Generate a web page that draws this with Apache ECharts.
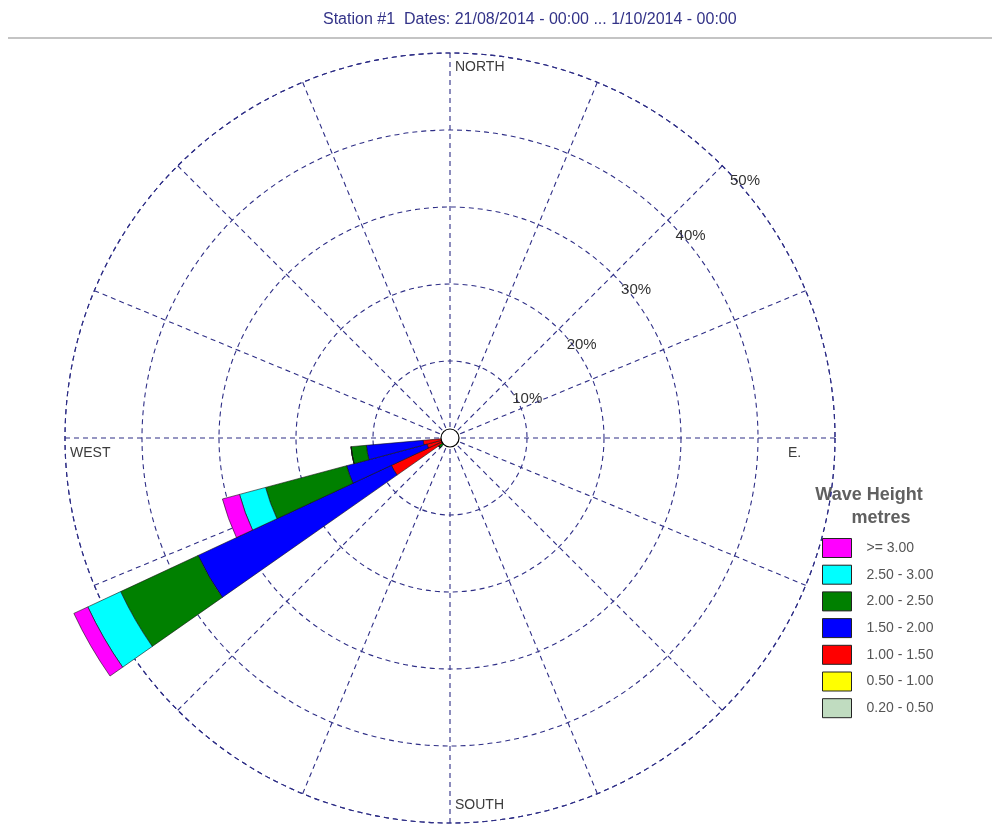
<!DOCTYPE html>
<html>
<head>
<meta charset="utf-8">
<title>Wave rose</title>
<script src="https://cdn.jsdelivr.net/npm/echarts@6/dist/echarts.min.js"></script>
<style>
  html, body { margin: 0; padding: 0; background: #fff; }
  #chart { width: 992px; height: 826px; }
</style>
</head>
<body>
<div id="chart"></div>
<script>
  // direction bins (deg, 10 deg wide)
  const directions = [0, 10, 20, 30, 40, 50, 60, 70, 80, 90, 100, 110, 120, 130, 140, 150, 160, 170,
    180, 190, 200, 210, 220, 230, 240, 250, 260, 270, 280, 290, 300, 310, 320, 330, 340, 350]
  // bins that carry data
  const binDirs = [230, 240, 250, 260]
  // percent of time per wave height class, one value per bin above
  const h020 = [0, 0, 0, 0]
  const h050 = [0, 0, 0, 0]
  const h100 = [0, 8.4, 3.1, 3.5]
  const h150 = [0.8, 27.7, 10.8, 7.4]
  const h200 = [1.0, 11.1, 10.9, 2.0]
  const h250 = [0, 4.7, 3.5, 0]
  const h300 = [0, 2.0, 2.3, 0]

  const classNames = ['0.20 - 0.50', '0.50 - 1.00', '1.00 - 1.50', '1.50 - 2.00', '2.00 - 2.50', '2.50 - 3.00', '>= 3.00']
  const classValues = [h020, h050, h100, h150, h200, h250, h300]
  const colors = ['#c0dcc0', '#ffff00', '#ff0000', '#0000ff', '#008000', '#00ffff', '#ff00ff']
  const ringTicks = [10, 20, 30, 40, 50]

  const cx = 450, cy = 438, R = 385
  const gridColor = '#2e2e86'
  const font = 'Liberation Sans, Arial'

  function fullRow(vals) {
    return directions.map(d => {
      let i = binDirs.indexOf(d)
      return i >= 0 ? vals[i] : 0
    })
  }

  let series = classNames.map((name, k) => ({
    name: name,
    type: 'bar',
    coordinateSystem: 'polar',
    polarIndex: 0,
    stack: 'wave',
    barCategoryGap: '0%',
    itemStyle: { color: colors[k], borderColor: '#111', borderWidth: 0.6 },
    data: fullRow(classValues[k]),
    z: 3
  }))
  // centre circle
  series.push({
    type: 'scatter',
    coordinateSystem: 'polar',
    polarIndex: 0,
    symbolSize: 18,
    itemStyle: { color: '#fff', borderColor: '#000', borderWidth: 1.2, opacity: 1 },
    data: [[0, 0]],
    z: 6,
    silent: true
  })

  let el = document.getElementById('chart')
  let myChart = echarts.init(el)

  const dirLabel = { fontSize: 14, fill: '#3c3c3c', fontFamily: font, textVerticalAlign: 'middle' }
  const dashed = { color: gridColor, width: 1.1, type: [5, 4] }

  myChart.setOption({
    animation: false,
    title: {
      text: 'Station #1  Dates: 21/08/2014 - 00:00 ... 1/10/2014 - 00:00',
      left: 318,
      top: 7,
      textStyle: { fontSize: 16, fontWeight: 'normal', color: '#333388', fontFamily: font }
    },
    legend: {
      orient: 'vertical',
      left: 822,
      top: 538,
      padding: 0,
      itemWidth: 29,
      itemHeight: 19,
      itemGap: 6.7,
      icon: 'rect',
      data: classNames.slice().reverse(),
      itemStyle: { borderColor: '#222', borderWidth: 1 },
      textStyle: { fontSize: 14, color: '#555', fontFamily: font, padding: [0, 0, 0, 10] },
      selectedMode: false
    },
    polar: [
      { center: [cx, cy], radius: R * 60 / 50 },
      { center: [cx, cy], radius: R }
    ],
    angleAxis: [
      {
        polarIndex: 0,
        type: 'category',
        data: directions,
        startAngle: 95,
        clockwise: true,
        axisLine: { show: false },
        axisTick: { show: false },
        axisLabel: { show: false },
        splitLine: { show: false }
      },
      {
        polarIndex: 1,
        type: 'value',
        min: 0,
        max: 360,
        interval: 22.5,
        startAngle: 45,
        axisLine: { show: true, lineStyle: dashed },
        axisTick: { show: false },
        axisLabel: { show: false },
        splitLine: { show: true, lineStyle: dashed }
      }
    ],
    radiusAxis: [
      {
        polarIndex: 0,
        min: 0,
        max: 60,
        axisLine: { show: false },
        axisTick: { show: false },
        axisLabel: { show: false },
        splitLine: { show: false }
      },
      {
        polarIndex: 1,
        min: 0,
        max: 50,
        interval: 10,
        axisLine: { show: false },
        axisTick: { show: false },
        splitLine: { show: true, lineStyle: dashed },
        axisLabel: {
          showMinLabel: false,
          formatter: v => ringTicks.indexOf(v) >= 0 ? v + '%' : '',
          fontSize: 15,
          color: '#333',
          fontFamily: font,
          margin: -11,
          align: 'left',
          verticalAlign: 'top'
        }
      }
    ],
    graphic: [
      { type: 'line', shape: { x1: 8, y1: 38, x2: 992, y2: 38 }, style: { stroke: '#c4c4c4', lineWidth: 2 } },
      { type: 'text', x: 455, y: 67, style: Object.assign({ text: 'NORTH' }, dirLabel) },
      { type: 'text', x: 455, y: 805, style: Object.assign({ text: 'SOUTH' }, dirLabel) },
      { type: 'text', x: 70, y: 453, style: Object.assign({ text: 'WEST' }, dirLabel) },
      { type: 'text', x: 788, y: 453, style: Object.assign({ text: 'E.' }, dirLabel) },
      {
        type: 'text', x: 869, y: 495,
        style: { text: 'Wave Height', textAlign: 'center', textVerticalAlign: 'middle', fontSize: 18, fontWeight: 'bold', fill: '#606060', fontFamily: font }
      },
      {
        type: 'text', x: 881, y: 518,
        style: { text: 'metres', textAlign: 'center', textVerticalAlign: 'middle', fontSize: 18, fontWeight: 'bold', fill: '#606060', fontFamily: font }
      }
    ],
    series: series
  })
</script>
</body>
</html>
